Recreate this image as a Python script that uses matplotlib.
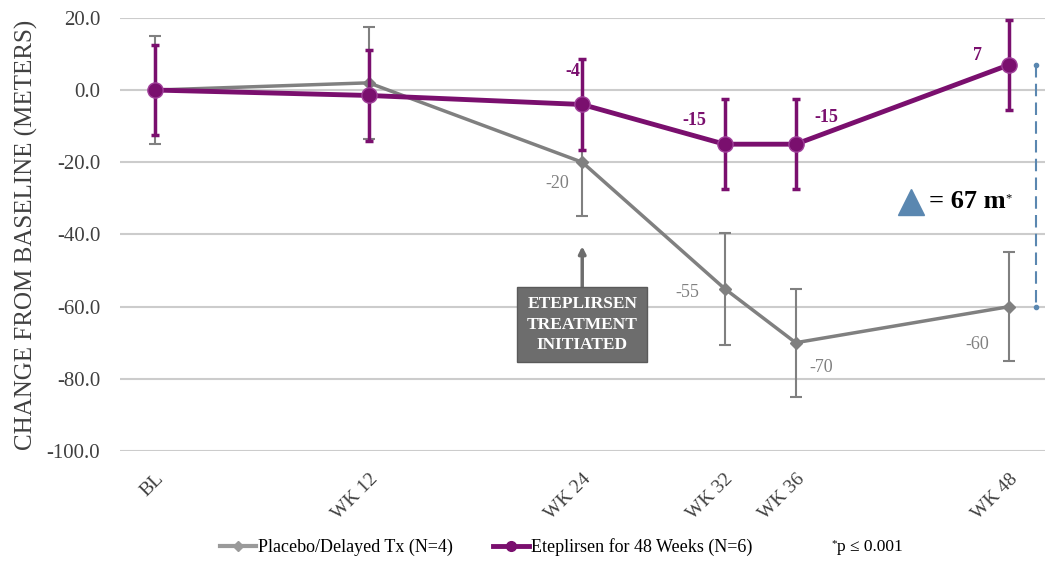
import matplotlib.pyplot as plt
from matplotlib.lines import Line2D

plt.rcParams['font.family'] = ['Liberation Serif', 'DejaVu Serif']

# Visits (weeks) and tick labels
weeks = [0, 12, 24, 32, 36, 48]
week_labels = ['BL', 'WK 12', 'WK 24', 'WK 32', 'WK 36', 'WK 48']

# Placebo / delayed treatment
placebo = [0, 2, -20, -55, -70, -60]
placebo_err = [15, 15.5, 15, 15.5, 15, 15]

# Eteplirsen 48 weeks
etep = [0, -1.5, -4, -15, -15, 7]
etep_err = [12.5, 12.5, 12.5, 12.5, 12.5, 12.5]

placebo_lbl = ['', '', '-20', '-55', '-70', '-60']
etep_lbl = ['', '', '-4', '-15', '-15', '7']

purple = '#7a0f6e'
grey = '#808080'
blue = '#5a87b0'

fig = plt.figure(figsize=(10.5, 5.76), dpi=100)
ax = fig.add_axes([0.114, 0.217, 0.881, 0.752])

# Placebo
ax.errorbar(weeks, placebo, yerr=placebo_err, color=grey, lw=2.5, marker='D',
            ms=6, elinewidth=1.5, capsize=4, capthick=1.5, zorder=3)
# Eteplirsen
ax.errorbar(weeks, etep, yerr=etep_err, color=purple, lw=3.5, marker='o',
            ms=11, mec='#a0409a', mfc=purple, elinewidth=2.5, capsize=3, capthick=2.5, zorder=4)

# Point labels (offsets in points)
p_off = [None, None, (-18, -15), (-27, -3), (18, -18), (-23, -27)]
for x, y, t, o in zip(weeks, placebo, placebo_lbl, p_off):
    if t:
        ax.annotate(t, (x, y), xytext=o, textcoords='offset points', color=grey,
                    fontsize=13, ha='center', va='center')
e_off = [None, None, (-7, 24), (-22, 17), (22, 19), (-23, 7)]
for x, y, t, o in zip(weeks, etep, etep_lbl, e_off):
    if t:
        ax.annotate(t, (x, y), xytext=o, textcoords='offset points', color=purple,
                    fontsize=13, fontweight='bold', ha='center', va='center')

# Treatment initiated box with arrow
ax.annotate('', xy=(24, -42.5), xytext=(24, -55.5),
            arrowprops=dict(arrowstyle='-|>', color='#6d6d6d', lw=2.5, mutation_scale=10))
ax.text(24, -65, 'ETEPLIRSEN\nTREATMENT\nINITIATED', ha='center', va='center',
        color='white', fontsize=12.5, fontweight='bold', linespacing=1.35,
        bbox=dict(boxstyle='square,pad=0.55', fc='#6d6d6d', ec='#5a5a5a'), zorder=5)

# Difference bracket at week 48
ax.plot([49.5, 49.5], [etep[-1], placebo[-1]], color=blue, lw=1.5, ls=(0, (6, 3)))
ax.plot([49.5, 49.5], [etep[-1], placebo[-1]], 'o', color=blue, ms=3)
ax.plot(42.5, -31, marker='^', color=blue, ms=19, clip_on=False)
t67 = ax.text(43.5, -31, '= 67 m', fontsize=19, fontweight='bold', va='center', ha='left')
ax.annotate('*', xy=(1, 0.9), xycoords=t67, fontsize=9, ha='left', va='top')

ax.set_xlim(-2, 50)
ax.set_ylim(-100, 20)
ax.set_yticks(range(-100, 21, 20))
ax.set_yticklabels([f'{v:.1f}' for v in range(-100, 21, 20)], fontsize=15, color='#404040')
ax.set_xticks(weeks)
ax.set_xticklabels(week_labels, rotation=45, ha='right', rotation_mode='anchor',
                   fontsize=14, color='#404040')
ax.tick_params(axis='y', length=0, pad=14)
ax.tick_params(axis='x', length=0, pad=14)
ax.grid(axis='y', color='#cccccc', lw=1.5)
ax.set_axisbelow(True)
for s in ax.spines.values():
    s.set_visible(False)
ax.set_ylabel('CHANGE FROM BASELINE (METERS)', fontsize=18, color='#404040', labelpad=6)

handles = [Line2D([], [], color='#9a9a9a', lw=3, marker='D', ms=5),
           Line2D([], [], color=purple, lw=3.5, marker='o', ms=7)]
fig.legend(handles, ['Placebo/Delayed Tx (N=4)', 'Eteplirsen for 48 Weeks (N=6)'],
           loc='center', bbox_to_anchor=(0.463, 0.05), ncol=2, frameon=False,
           fontsize=13, handlelength=2.0, handletextpad=0.1, columnspacing=2.2)
pt = fig.text(0.797, 0.05, 'p \u2264 0.001', fontsize=12.5, va='center')
ax.annotate('*', xy=(0, 1), xycoords=pt, fontsize=8, ha='right', va='top')

fig.savefig('out.png', dpi=100)
